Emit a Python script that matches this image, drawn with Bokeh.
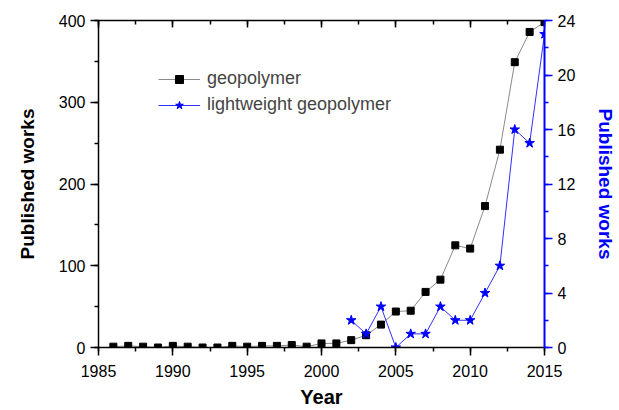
from bokeh.plotting import figure
from bokeh.models import (LinearAxis, Range1d, SingleIntervalTicker, Legend,
                          LegendItem, ColumnDataSource)
from bokeh.embed import file_html
from bokeh.resources import INLINE

# ---- data ----
geo_years = list(range(1986, 2016))
geo_works = [1, 2, 1, 0, 2, 1, 0, 0, 2, 1, 2, 2, 3, 1, 5, 5, 9, 15, 28, 44,
             45, 68, 83, 125, 121, 173, 242, 349, 386, 398]
light_years = list(range(2002, 2016))
light_works = [2, 1, 3, 0, 1, 1, 3, 2, 2, 4, 6, 16, 15, 23]

x_ticks_interval = 5
left_ticks_interval = 100
right_ticks_interval = 4

FONT = "Liberation Sans"

p = figure(width=619, height=410,
           x_range=Range1d(1985, 2015), y_range=Range1d(0, 400),
           output_backend="svg", toolbar_location=None,
           min_border_left=98, min_border_right=75,
           min_border_top=20, min_border_bottom=63,
           outline_line_color=None)
p.xgrid.visible = False
p.ygrid.visible = False
p.extra_y_ranges = {"right": Range1d(0, 24)}


def style_axis(ax, color="black"):
    ax.axis_line_color = color
    ax.axis_line_width = 1.5
    ax.major_tick_line_color = color
    ax.minor_tick_line_color = color
    ax.major_tick_line_width = 1.5
    ax.minor_tick_line_width = 1.5
    ax.major_tick_in = 0
    ax.major_tick_out = 8
    ax.minor_tick_in = 0
    ax.minor_tick_out = 4
    ax.major_label_text_font = FONT
    ax.major_label_text_font_size = "16px"
    ax.major_label_text_color = "black"
    ax.major_label_standoff = 5
    ax.axis_label_text_font = FONT
    ax.axis_label_text_font_style = "bold"
    ax.axis_label_text_font_size = "20px"
    ax.axis_label_text_color = "black"


xa = p.xaxis[0]
xa.ticker = SingleIntervalTicker(interval=x_ticks_interval, num_minor_ticks=2)
style_axis(xa)
xa.major_label_standoff = 9
xa.axis_label = "Year"
xa.axis_label_standoff = 6

ya = p.yaxis[0]
ya.ticker = SingleIntervalTicker(interval=left_ticks_interval, num_minor_ticks=2)
style_axis(ya)
ya.axis_label = "Published works"
ya.axis_label_text_font_size = "19px"
ya.axis_label_standoff = 18

top = LinearAxis(ticker=SingleIntervalTicker(interval=x_ticks_interval, num_minor_ticks=2))
style_axis(top)
top.major_tick_in = 7
top.major_tick_out = 0
top.minor_tick_in = 4
top.minor_tick_out = 0
top.major_label_text_color = None
top.major_label_text_font_size = "1px"
top.major_label_standoff = 0
p.add_layout(top, "above")

ra = LinearAxis(y_range_name="right",
                ticker=SingleIntervalTicker(interval=right_ticks_interval, num_minor_ticks=2))
style_axis(ra, color="#0000ff")
ra.axis_line_width = 2
ra.axis_label = "Published works"
ra.axis_label_text_color = "#0000ff"
ra.axis_label_text_font_size = "19px"
ra.axis_label_standoff = 17
p.add_layout(ra, "right")

src_geo = ColumnDataSource(dict(x=geo_years, y=geo_works))
src_light = ColumnDataSource(dict(x=light_years, y=light_works))

l1 = p.line("x", "y", source=src_geo, line_color="#8a8a8a", line_width=1)
s1 = p.scatter("x", "y", source=src_geo, marker="square", size=7,
               fill_color="black", line_color="black")
l2 = p.line("x", "y", source=src_light, y_range_name="right",
            line_color="#3030ff", line_width=1)
s2 = p.scatter("x", "y", source=src_light, y_range_name="right", marker="star",
               size=10, fill_color="#0000ff", line_color="#0000ff")

legend = Legend(items=[LegendItem(label="geopolymer", renderers=[l1, s1]),
                       LegendItem(label="lightweight geopolymer", renderers=[l2, s2])],
                location=(60, 232), border_line_color=None,
                background_fill_alpha=0, padding=0, margin=0, spacing=5,
                glyph_width=42, label_standoff=7,
                label_text_font=FONT, label_text_font_size="18px")
p.add_layout(legend)

open("out.html", "w").write(file_html(p, INLINE))
